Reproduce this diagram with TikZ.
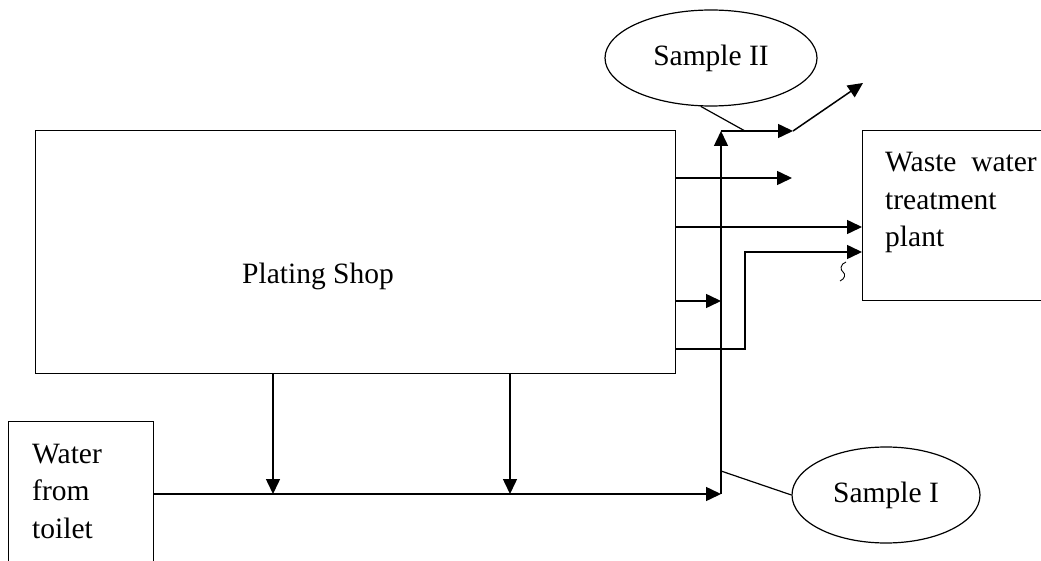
\documentclass[tikz,border=0pt]{standalone}
\usepackage{fontspec}
\setmainfont{Liberation Serif}
\usetikzlibrary{arrows.meta,shapes.geometric}
\begin{document}
\begin{tikzpicture}[x=1pt,y=-1pt,
  box/.style={draw, line width=1.2pt, rectangle, inner sep=0pt, anchor=north west},
  oval/.style={draw, line width=1.2pt, ellipse, inner sep=0pt, font=\fontsize{29.5}{37.5}\selectfont},
  txt/.style={inner sep=0pt, font=\fontsize{29.5}{37.5}\selectfont, align=left},
  ln/.style={line width=1.2pt},
  arr/.style={line width=1.5pt, -{Triangle[length=15pt,width=14pt]}},
]
\useasboundingbox (0,0) rectangle (1041,561);
% boxes
\node[box, minimum width=640pt, minimum height=243pt] (ps) at (35,130) {};
\node[txt, anchor=center] (pst) at (318,276) {Plating Shop};
\node[box, minimum width=145pt, minimum height=170pt] (wft) at (8,421) {};
\node[txt, anchor=base west] (wftt) at (32,538) {Water\\from\\toilet};
\node[box, minimum width=200pt, minimum height=170pt] (wwtp) at (862,130) {};
\node[txt, anchor=base west] (wwtpt) at (885,247) {Waste\ \ water\\treatment\\plant};
\node[oval, minimum width=212pt, minimum height=96pt] (s2) at (711,58) {Sample II};
\node[oval, minimum width=188pt, minimum height=96pt] (s1) at (886,495) {Sample I};
% coordinates
\coordinate (wo) at (153,494);
\coordinate (jb) at (721,494);
\coordinate (jt) at (721,131);
\coordinate (sp) at (793,131);
\coordinate (o2) at (863,83);
\coordinate (d1a) at (273,373);
\coordinate (d1b) at (273,494);
\coordinate (d2a) at (510,373);
\coordinate (d2b) at (510,494);
\coordinate (r1a) at (675,178);
\coordinate (r1b) at (792,178);
\coordinate (r2a) at (675,227);
\coordinate (r2b) at (862,227);
\coordinate (r3a) at (675,349);
\coordinate (r3k1) at (745,349);
\coordinate (r3k2) at (745,252);
\coordinate (r3b) at (862,252);
\coordinate (r4a) at (675,301);
\coordinate (r4b) at (721,301);
\coordinate (c2) at (745,131);
\coordinate (c1) at (721,471);
% flows
\draw[arr] (wo) -- (jb);
\draw[arr] (jb) -- (jt);
\draw[arr] (jt) -- (sp);
\draw[arr] (sp) -- (o2);
\draw[arr] (d1a) -- (d1b);
\draw[arr] (d2a) -- (d2b);
\draw[arr] (r1a) -- (r1b);
\draw[arr] (r2a) -- (r2b);
\draw[arr] (r3a) -- (r3k1) -- (r3k2) -- (r3b);
\draw[arr] (r4a) -- (r4b);
% sample connectors
\draw[ln] (s2.258) -- (c2);
\draw[ln] (c1) -- (s1.west);
% squiggle
\draw[line width=0.9pt] (846,262) .. controls (840,264) and (840,270) .. (843,272) .. controls (846,274) and (845,279) .. (840,281);
\end{tikzpicture}
\end{document}
